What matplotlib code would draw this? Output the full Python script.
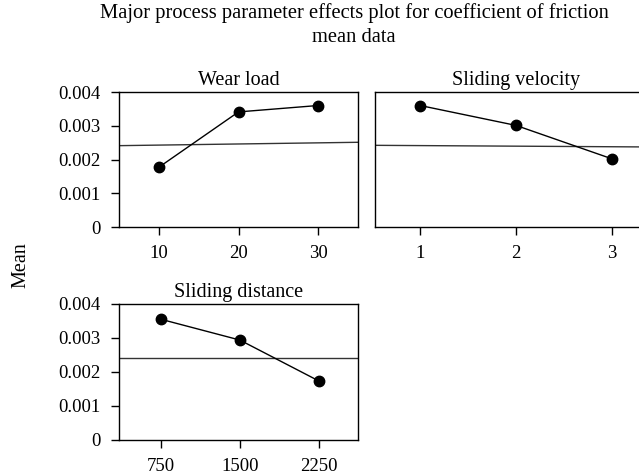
import matplotlib.pyplot as plt

plt.rcParams['font.family'] = 'Liberation Serif'
plt.rcParams['font.size'] = 13.5

# Data
wear_load = [10, 20, 30]
wear_mean = [0.00177, 0.00341, 0.00360]
wear_ref = [0.00241, 0.00251]

velocity = [1, 2, 3]
velocity_mean = [0.00360, 0.00301, 0.00202]
velocity_ref = [0.00242, 0.00237]

distance = [750, 1500, 2250]
distance_mean = [0.00355, 0.00294, 0.00174]
distance_ref = [0.00240, 0.00240]

yticks = [0, 0.001, 0.002, 0.003, 0.004]
ytick_labels = ['0', '0.001', '0.002', '0.003', '0.004']

W, H = 639, 474
fig = plt.figure(figsize=(W / 100, H / 100), dpi=100)


def add_panel(rect_px, x, y, ref, xlim, title, show_y=True):
    l, t, r, b = rect_px
    ax = fig.add_axes([l / W, 1 - b / H, (r - l) / W, (b - t) / H])
    ax.plot(xlim, ref, color='#333333', lw=1.0)
    ax.plot(x, y, color='black', lw=1.0, marker='o', ms=7.5)
    ax.set_xlim(xlim)
    ax.set_ylim(0, 0.004)
    ax.set_xticks(x)
    ax.set_xticklabels([str(v) for v in x])
    ax.set_yticks(yticks)
    if show_y:
        ax.set_yticklabels(ytick_labels)
    else:
        ax.tick_params(axis='y', left=False, labelleft=False)
    ax.tick_params(length=6, width=1, pad=7, labelsize=13.5)
    for s in ax.spines.values():
        s.set_linewidth(1)
    ax.set_title(title, fontsize=14.5, pad=5)
    return ax


add_panel((119, 92, 358, 227), wear_load, wear_mean, wear_ref, (5, 35), 'Wear load')
add_panel((375, 92, 657, 227), velocity, velocity_mean, velocity_ref, (0.53, 3.47),
          'Sliding velocity', show_y=False)
add_panel((119, 304, 358, 440), distance, distance_mean, distance_ref, (350, 2625),
          'Sliding distance')

fig.text(354 / W, 1 - 25 / H,
         'Major process parameter effects plot for coefficient of friction\nmean data',
         ha='center', va='center', fontsize=14.8, linespacing=1.3)
fig.text(21 / W, 1 - 265 / H, 'Mean', rotation=90, ha='center', va='center', fontsize=14.5)

fig.savefig('out.png', dpi=100)
